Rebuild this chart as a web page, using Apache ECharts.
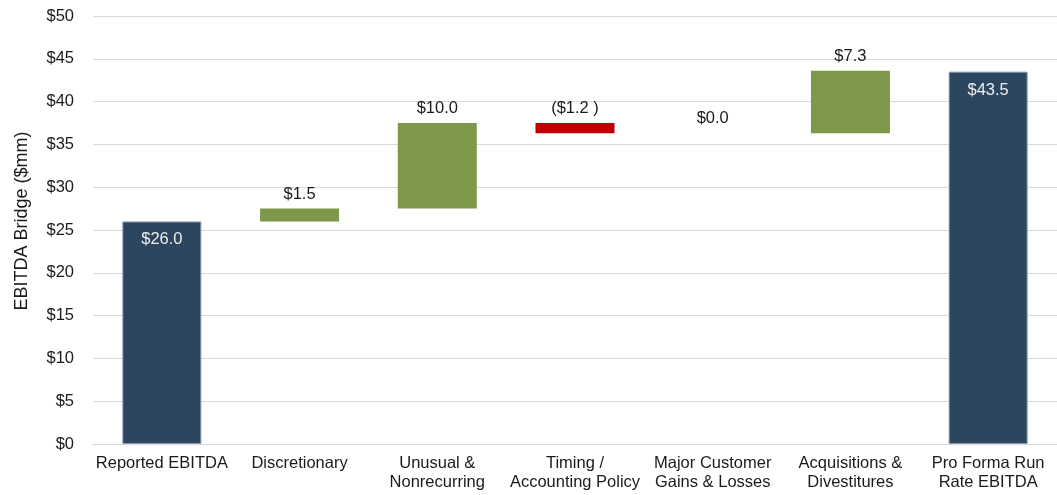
<!DOCTYPE html>
<html>
<head>
<meta charset="utf-8">
<style>
  html, body { margin: 0; padding: 0; background: #fff; }
  #chart { width: 1057px; height: 495px; }
</style>
<script src="https://cdn.jsdelivr.net/npm/echarts@6/dist/echarts.min.js"></script>
</head>
<body>
<div id="chart"></div>
<script>
// EBITDA bridge data ($mm)
var categories = [
  "Reported EBITDA",
  "Discretionary",
  "Unusual &\nNonrecurring",
  "Timing /\nAccounting Policy",
  "Major Customer\nGains & Losses",
  "Acquisitions &\nDivestitures",
  "Pro Forma Run\nRate EBITDA"
];
var changes = [26.0, 1.5, 10.0, -1.2, 0.0, 7.3, 43.5];
var isTotal = [true, false, false, false, false, false, true];
var yTicks = { min: 0, max: 50, interval: 5 };

// build invisible base + visible piece for the waterfall
var base = [];
var piece = [];
var running = 0;
for (var i = 0; i < changes.length; i++) {
  var v = changes[i];
  if (isTotal[i]) {
    base.push(0);
    piece.push(v);
    running = v;
  } else if (v >= 0) {
    base.push(running);
    piece.push(v);
    running += v;
  } else {
    running += v;
    base.push(running);
    piece.push(-v);
  }
}

function colorFor(i) {
  if (isTotal[i]) return "#2D4660";
  return changes[i] < 0 ? "#C00000" : "#7D984A";
}

function fmt(v) {
  if (v < 0) return "($" + Math.abs(v).toFixed(1) + " )";
  return "$" + v.toFixed(1);
}

var FONT = "Liberation Sans, Arial, sans-serif";

var chart = echarts.init(document.getElementById("chart"));
chart.setOption({
  animation: false,
  grid: { left: 93, right: 0, top: 16, bottom: 51 },
  xAxis: {
    type: "category",
    data: categories,
    axisTick: { show: false },
    axisLine: { lineStyle: { color: "#D9D9D9", width: 1 } },
    axisLabel: {
      color: "#1a1a1a",
      fontSize: 16.5,
      fontFamily: FONT,
      lineHeight: 19,
      margin: 10,
      interval: 0
    }
  },
  yAxis: {
    type: "value",
    min: yTicks.min,
    max: yTicks.max,
    interval: yTicks.interval,
    name: "EBITDA Bridge ($mm)",
    nameLocation: "middle",
    nameGap: 62,
    nameTextStyle: {
      color: "#1a1a1a",
      fontSize: 18,
      fontFamily: FONT,
      padding: [0, 0, 0, 18]
    },
    axisLine: { show: false },
    axisTick: { show: false },
    splitLine: { lineStyle: { color: "#D9D9D9", width: 1 } },
    axisLabel: {
      color: "#1a1a1a",
      fontSize: 16.5,
      fontFamily: FONT,
      margin: 19,
      formatter: function (v) { return "$" + v; }
    }
  },
  series: [
    {
      type: "bar",
      stack: "wf",
      silent: true,
      barWidth: 79,
      itemStyle: { color: "transparent" },
      data: base
    },
    {
      type: "bar",
      stack: "wf",
      barWidth: 79,
      data: piece.map(function (p, i) {
        return {
          value: p,
          itemStyle: {
            color: colorFor(i),
            borderColor: isTotal[i] ? "#8A9BAD" : colorFor(i),
            borderWidth: isTotal[i] ? 1 : 0
          },
          label: {
            show: true,
            position: isTotal[i] ? "insideTop" : "top",
            distance: isTotal[i] ? 10 : 6,
            color: isTotal[i] ? "#EDEDED" : "#1a1a1a",
            fontSize: 16.5,
            fontFamily: FONT,
            formatter: fmt(changes[i])
          }
        };
      })
    }
  ]
});
</script>
</body>
</html>
